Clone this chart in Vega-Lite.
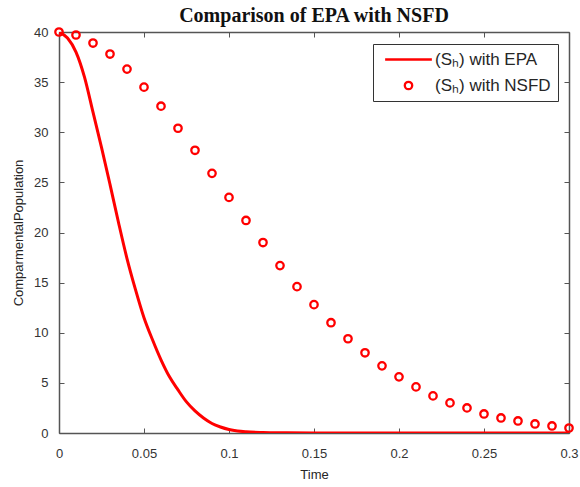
{
  "$schema": "https://vega.github.io/schema/vega-lite/v6.json",
  "width": 510,
  "height": 401,
  "autosize": {"type": "none"},
  "padding": {"left": 59, "top": 32, "right": 11, "bottom": 54},
  "background": "white",
  "title": {
    "text": "Comparison of EPA with NSFD",
    "font": "Liberation Serif",
    "fontSize": 20,
    "fontWeight": "bold",
    "color": "#111111",
    "anchor": "middle",
    "baseline": "alphabetic",
    "offset": 2,
    "dy": 20
  },
  "config": {
    "view": {"stroke": null},
    "axis": {
      "grid": false,
      "labelFont": "Liberation Sans",
      "labelFontSize": 13,
      "labelColor": "#333333",
      "titleFont": "Liberation Sans",
      "titleFontSize": 13,
      "titleFontWeight": "normal",
      "titleColor": "#262626",
      "domainColor": "#555555",
      "domainWidth": 1.5,
      "tickColor": "#555555",
      "tickWidth": 1,
      "tickSize": -5
    }
  },
  "data": {
    "values": [
      {"t": 0, "v": 40, "series": "(Sₕ) with EPA"},
      {"t": 0.005, "v": 39.4, "series": "(Sₕ) with EPA"},
      {"t": 0.01, "v": 38.0, "series": "(Sₕ) with EPA"},
      {"t": 0.015, "v": 35.5, "series": "(Sₕ) with EPA"},
      {"t": 0.02, "v": 32.0, "series": "(Sₕ) with EPA"},
      {"t": 0.025, "v": 28.5, "series": "(Sₕ) with EPA"},
      {"t": 0.03, "v": 24.8, "series": "(Sₕ) with EPA"},
      {"t": 0.035, "v": 21.0, "series": "(Sₕ) with EPA"},
      {"t": 0.04, "v": 17.4, "series": "(Sₕ) with EPA"},
      {"t": 0.045, "v": 14.3, "series": "(Sₕ) with EPA"},
      {"t": 0.05, "v": 11.5, "series": "(Sₕ) with EPA"},
      {"t": 0.055, "v": 9.3, "series": "(Sₕ) with EPA"},
      {"t": 0.06, "v": 7.3, "series": "(Sₕ) with EPA"},
      {"t": 0.065, "v": 5.6, "series": "(Sₕ) with EPA"},
      {"t": 0.07, "v": 4.3, "series": "(Sₕ) with EPA"},
      {"t": 0.075, "v": 3.1, "series": "(Sₕ) with EPA"},
      {"t": 0.08, "v": 2.2, "series": "(Sₕ) with EPA"},
      {"t": 0.085, "v": 1.5, "series": "(Sₕ) with EPA"},
      {"t": 0.09, "v": 0.95, "series": "(Sₕ) with EPA"},
      {"t": 0.095, "v": 0.6, "series": "(Sₕ) with EPA"},
      {"t": 0.1, "v": 0.35, "series": "(Sₕ) with EPA"},
      {"t": 0.105, "v": 0.2, "series": "(Sₕ) with EPA"},
      {"t": 0.11, "v": 0.12, "series": "(Sₕ) with EPA"},
      {"t": 0.12, "v": 0.05, "series": "(Sₕ) with EPA"},
      {"t": 0.13, "v": 0.02, "series": "(Sₕ) with EPA"},
      {"t": 0.15, "v": 0.0, "series": "(Sₕ) with EPA"},
      {"t": 0.2, "v": 0.0, "series": "(Sₕ) with EPA"},
      {"t": 0.25, "v": 0.0, "series": "(Sₕ) with EPA"},
      {"t": 0.3, "v": 0.0, "series": "(Sₕ) with EPA"},
      {"t": 0, "v": 40, "series": "(Sₕ) with NSFD"},
      {"t": 0.01, "v": 39.7, "series": "(Sₕ) with NSFD"},
      {"t": 0.02, "v": 38.9, "series": "(Sₕ) with NSFD"},
      {"t": 0.03, "v": 37.8, "series": "(Sₕ) with NSFD"},
      {"t": 0.04, "v": 36.3, "series": "(Sₕ) with NSFD"},
      {"t": 0.05, "v": 34.5, "series": "(Sₕ) with NSFD"},
      {"t": 0.06, "v": 32.6, "series": "(Sₕ) with NSFD"},
      {"t": 0.07, "v": 30.4, "series": "(Sₕ) with NSFD"},
      {"t": 0.08, "v": 28.2, "series": "(Sₕ) with NSFD"},
      {"t": 0.09, "v": 25.9, "series": "(Sₕ) with NSFD"},
      {"t": 0.1, "v": 23.5, "series": "(Sₕ) with NSFD"},
      {"t": 0.11, "v": 21.2, "series": "(Sₕ) with NSFD"},
      {"t": 0.12, "v": 19.0, "series": "(Sₕ) with NSFD"},
      {"t": 0.13, "v": 16.7, "series": "(Sₕ) with NSFD"},
      {"t": 0.14, "v": 14.6, "series": "(Sₕ) with NSFD"},
      {"t": 0.15, "v": 12.8, "series": "(Sₕ) with NSFD"},
      {"t": 0.16, "v": 11.0, "series": "(Sₕ) with NSFD"},
      {"t": 0.17, "v": 9.4, "series": "(Sₕ) with NSFD"},
      {"t": 0.18, "v": 8.0, "series": "(Sₕ) with NSFD"},
      {"t": 0.19, "v": 6.7, "series": "(Sₕ) with NSFD"},
      {"t": 0.2, "v": 5.6, "series": "(Sₕ) with NSFD"},
      {"t": 0.21, "v": 4.6, "series": "(Sₕ) with NSFD"},
      {"t": 0.22, "v": 3.7, "series": "(Sₕ) with NSFD"},
      {"t": 0.23, "v": 3.0, "series": "(Sₕ) with NSFD"},
      {"t": 0.24, "v": 2.5, "series": "(Sₕ) with NSFD"},
      {"t": 0.25, "v": 1.9, "series": "(Sₕ) with NSFD"},
      {"t": 0.26, "v": 1.5, "series": "(Sₕ) with NSFD"},
      {"t": 0.27, "v": 1.2, "series": "(Sₕ) with NSFD"},
      {"t": 0.28, "v": 0.9, "series": "(Sₕ) with NSFD"},
      {"t": 0.29, "v": 0.7, "series": "(Sₕ) with NSFD"},
      {"t": 0.3, "v": 0.5, "series": "(Sₕ) with NSFD"}
    ]
  },
  "layer": [
    {
      "transform": [{"filter": "datum.series == '(Sₕ) with EPA'"}],
      "mark": {"type": "line", "color": "#ff0000", "strokeWidth": 3, "interpolate": "monotone", "clip": true},
      "encoding": {
        "x": {
          "field": "t", "type": "quantitative",
          "scale": {"domain": [0, 0.3], "nice": false},
          "axis": {"orient": "bottom", "title": "Time", "values": [0, 0.05, 0.1, 0.15, 0.2, 0.25, 0.3], "format": "~g", "labelPadding": 19, "titlePadding": 8, "labelFlush": false}
        },
        "y": {
          "field": "v", "type": "quantitative",
          "scale": {"domain": [0, 40], "nice": false},
          "axis": {"orient": "left", "title": "ComparmentalPopulation", "values": [0, 5, 10, 15, 20, 25, 30, 35, 40], "labelPadding": 16, "titlePadding": 8, "labelFlush": false}
        }
      }
    },
    {
      "transform": [{"filter": "datum.series == '(Sₕ) with NSFD'"}],
      "mark": {"type": "point", "color": "#ff0000", "filled": false, "size": 55, "strokeWidth": 2.3, "opacity": 1},
      "encoding": {
        "x": {
          "field": "t", "type": "quantitative",
          "axis": {"orient": "top", "title": null, "labels": false, "values": [0, 0.05, 0.1, 0.15, 0.2, 0.25, 0.3]}
        },
        "y": {
          "field": "v", "type": "quantitative",
          "axis": {"orient": "right", "title": null, "labels": false, "values": [0, 5, 10, 15, 20, 25, 30, 35, 40]}
        },
        "shape": {
          "field": "series", "type": "nominal",
          "scale": {"domain": ["(Sₕ) with EPA", "(Sₕ) with NSFD"], "range": ["M-6.3,0H6.3", "circle"]},
          "legend": {
            "title": null,
            "orient": "none",
            "legendX": 314,
            "legendY": 12,
            "strokeColor": "#333333",
            "padding": 7,
            "fillColor": "white",
            "labelFont": "Liberation Sans",
            "labelFontSize": 17,
            "labelColor": "#262626",
            "labelOffset": 18,
            "symbolOffset": 20,
            "rowPadding": 8,
            "symbolSize": 55,
            "symbolStrokeWidth": 2.3,
            "encode": {
              "symbols": {
                "strokeWidth": {"signal": "datum.value == '(Sₕ) with EPA' ? 3 : 2.3"}
              }
            }
          }
        }
      }
    }
  ],
  "resolve": {"axis": {"x": "independent", "y": "independent"}}
}
